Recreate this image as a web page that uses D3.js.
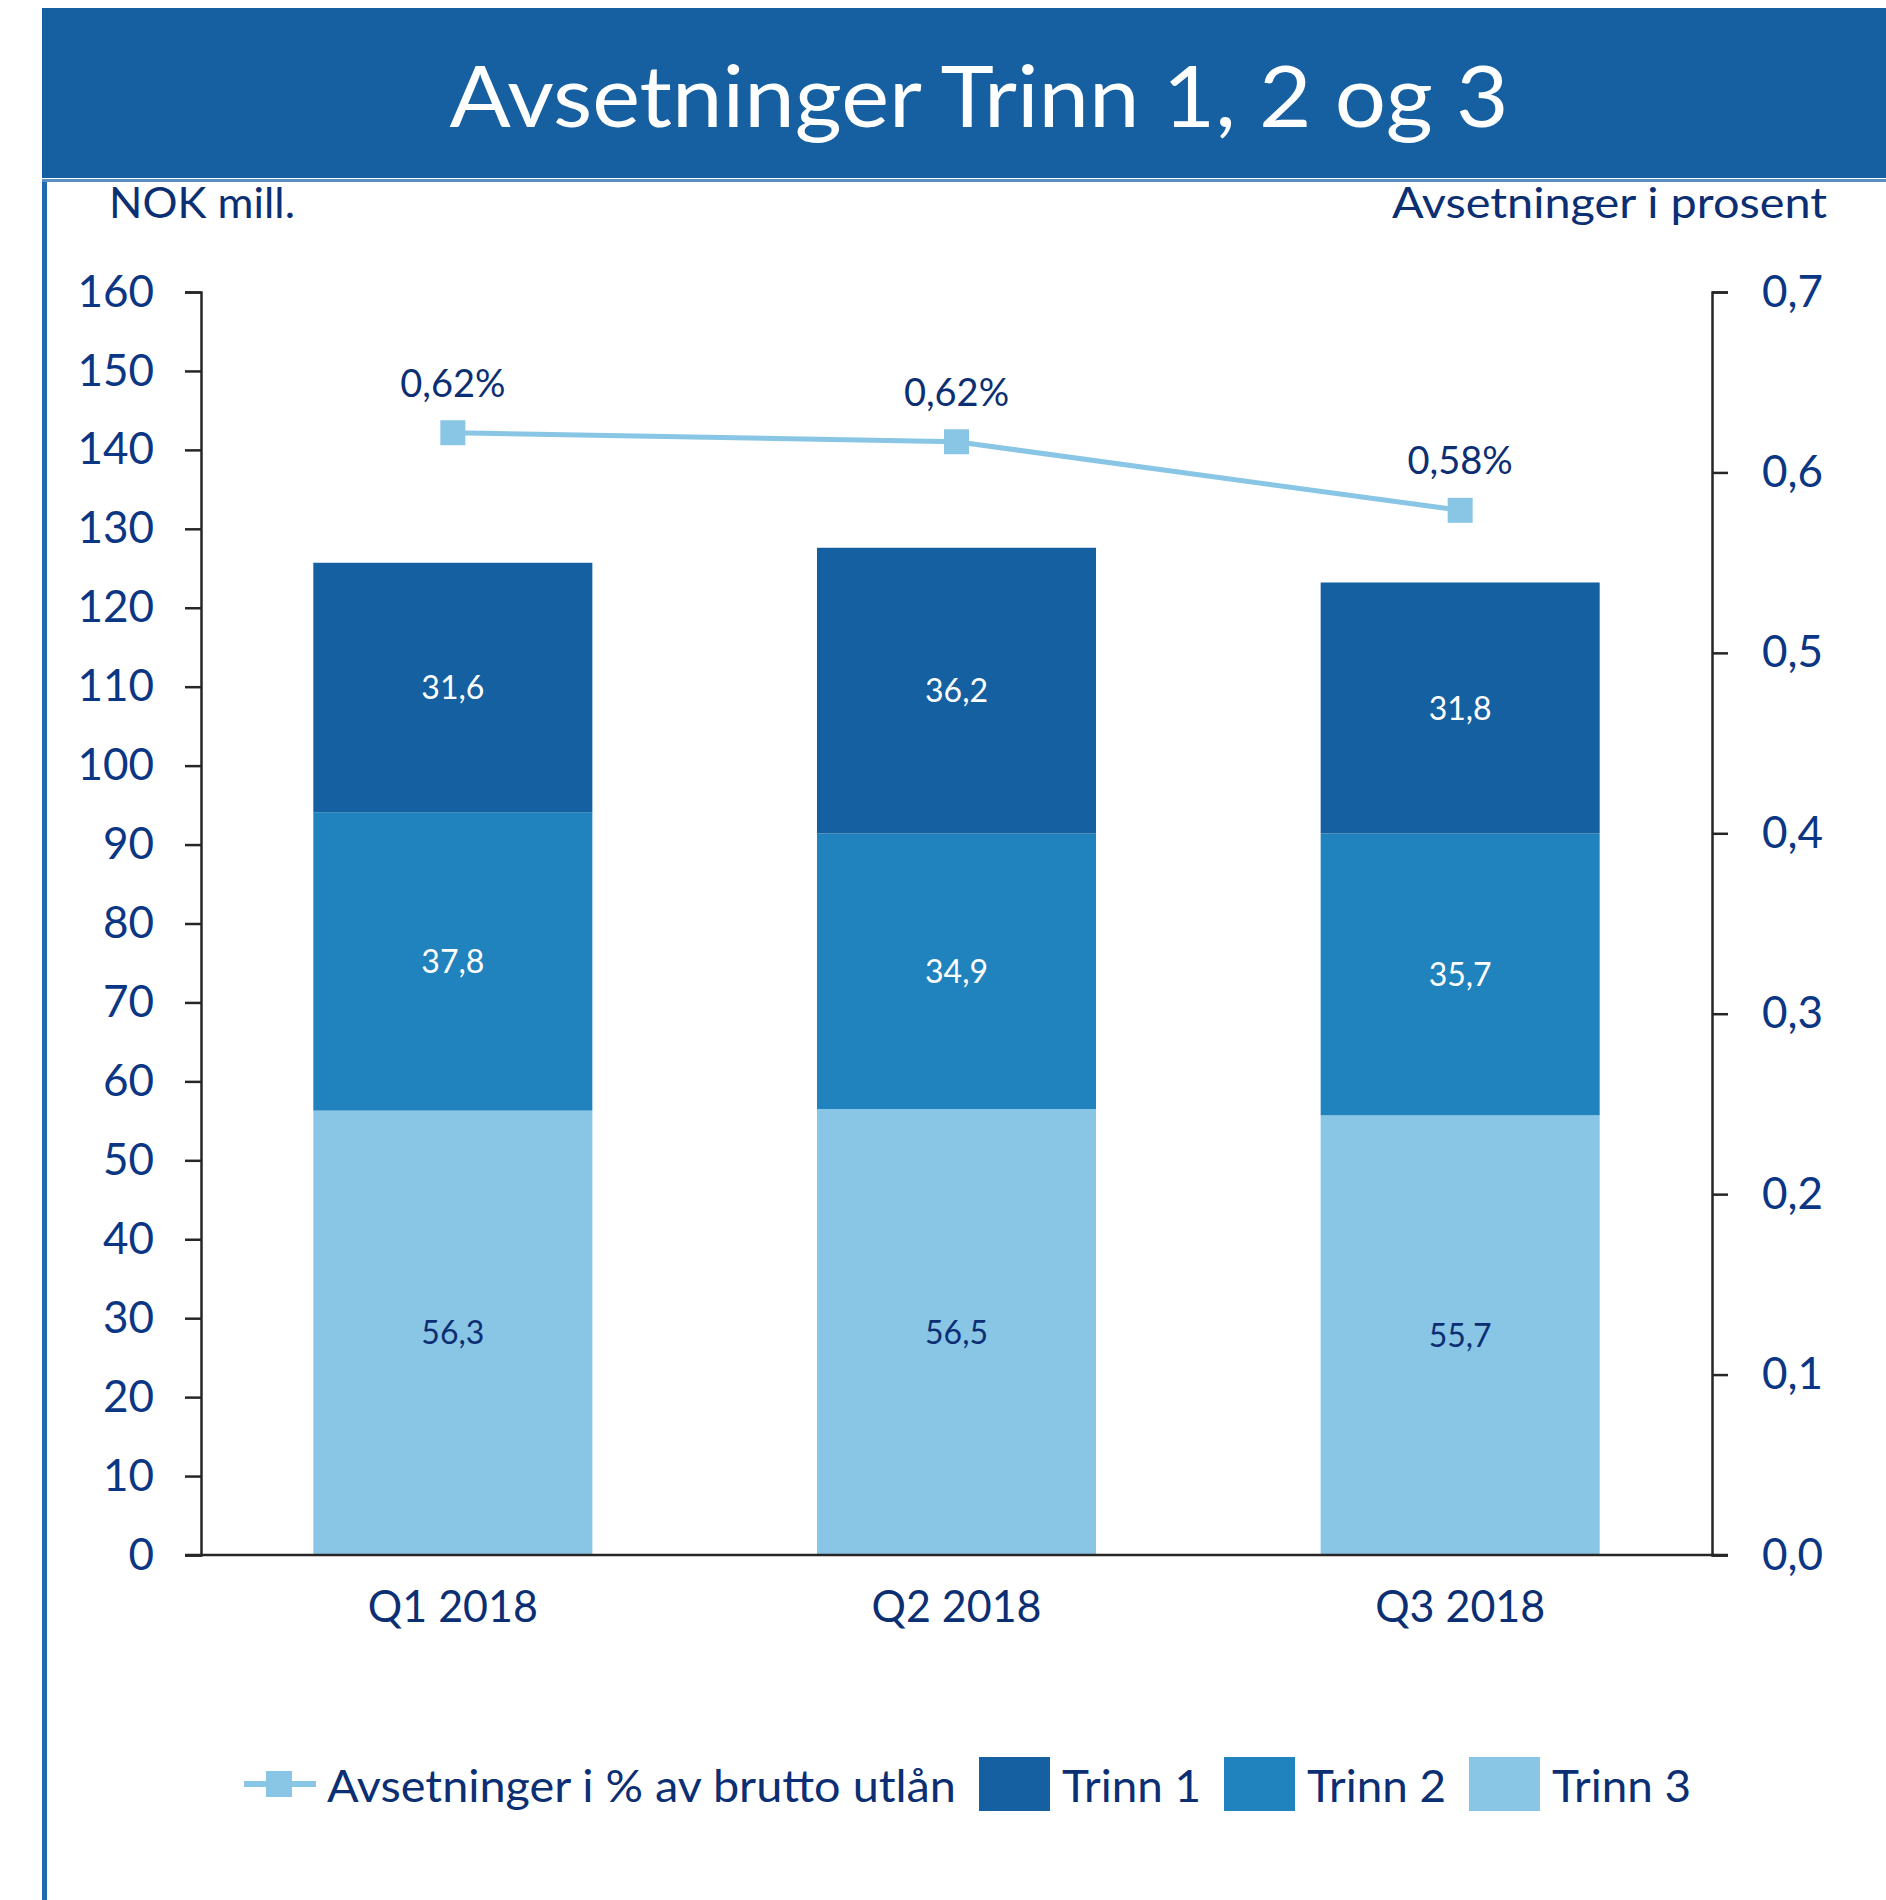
<!DOCTYPE html>
<html>
<head>
<meta charset="utf-8">
<script src="https://cdn.jsdelivr.net/npm/d3@7"></script>
<style>
  body { margin: 0; background: #fff; }
  svg text { font-family: Lato, "Open Sans", sans-serif; }
</style>
</head>
<body>
<div id="chart"></div>
<script>
// Avsetninger Trinn 1, 2 og 3 - stacked bars + % line on right axis

var quarters = ["Q1 2018", "Q2 2018", "Q3 2018"],
    trinn1 = [31.6, 36.2, 31.8],
    trinn2 = [37.8, 34.9, 35.7],
    trinn3 = [56.3, 56.5, 55.7],
    pctLine = [0.622, 0.617, 0.579],
    leftTicks = [0, 10, 20, 30, 40, 50, 60, 70, 80, 90, 100, 110, 120, 130, 140, 150, 160],
    rightTicks = [0, 0.1, 0.2, 0.3, 0.4, 0.5, 0.6, 0.7],
    seriesNames = ["Trinn 1", "Trinn 2", "Trinn 3"],
    lineName = "Avsetninger i % av brutto utlån";

var W = 1886, H = 1900,
    navy = "#0c2f73", tickBlue = "#0b3683",
    colors = {"Trinn 1": "#1560a0", "Trinn 2": "#2183bd", "Trinn 3": "#89c6e5"},
    plot = {left: 201, right: 1712, top: 292, bottom: 1555};

var no = d3.formatLocale({decimal: ",", thousands: " ", grouping: [3], currency: ["", " kr"]});
var f1 = no.format(".1f"), f2 = no.format(".2f");

var svg = d3.select("#chart").append("svg")
    .attr("width", W).attr("height", H);

// header band + frame
svg.append("rect").attr("x", 42).attr("y", 8).attr("width", W - 42).attr("height", 170)
    .attr("fill", "#1660a1");
svg.append("rect").attr("x", 42).attr("y", 179).attr("width", W - 42).attr("height", 3)
    .attr("fill", "#5b8fc4");
svg.append("rect").attr("x", 42).attr("y", 182).attr("width", 5).attr("height", H - 182)
    .attr("fill", "#1f6ab0");

svg.append("text").attr("x", 979).attr("y", 127)
    .attr("text-anchor", "middle").attr("fill", "#fff")
    .attr("font-size", 86).attr("textLength", 1059).attr("lengthAdjust", "spacingAndGlyphs")
    .text("Avsetninger Trinn 1, 2 og 3");

svg.append("text").attr("x", 109).attr("y", 218).attr("fill", navy)
    .attr("font-size", 43).attr("textLength", 186).attr("lengthAdjust", "spacingAndGlyphs")
    .text("NOK mill.");
svg.append("text").attr("x", 1827).attr("y", 218).attr("fill", navy)
    .attr("text-anchor", "end")
    .attr("font-size", 43).attr("textLength", 435).attr("lengthAdjust", "spacingAndGlyphs")
    .text("Avsetninger i prosent");

// scales
var x = d3.scaleBand().domain(quarters).range([plot.left, plot.right])
    .paddingInner(0.446).paddingOuter(0.223);
var y = d3.scaleLinear().domain([0, 160]).range([plot.bottom, plot.top]);
var y2 = d3.scaleLinear().domain([0, 0.7]).range([plot.bottom, plot.top]);

// stacked data
var rows = quarters.map(function(q, i) {
  return {q: q, "Trinn 3": trinn3[i], "Trinn 2": trinn2[i], "Trinn 1": trinn1[i]};
});
var stack = d3.stack().keys(["Trinn 3", "Trinn 2", "Trinn 1"])(rows);

var layers = svg.append("g").selectAll("g").data(stack).join("g")
    .attr("fill", function(d) { return colors[d.key]; });
layers.selectAll("rect").data(function(d) { return d; }).join("rect")
    .attr("x", function(d) { return x(d.data.q); })
    .attr("width", x.bandwidth())
    .attr("y", function(d) { return y(d[1]); })
    .attr("height", function(d) { return y(d[0]) - y(d[1]); });

layers.selectAll("text").data(function(d) { return d.map(function(v) { v.key = d.key; return v; }); })
    .join("text")
    .attr("x", function(d) { return x(d.data.q) + x.bandwidth() / 2; })
    .attr("y", function(d) { return (y(d[0]) + y(d[1])) / 2; })
    .attr("dy", "0.36em")
    .attr("text-anchor", "middle")
    .attr("font-size", 32)
    .attr("fill", function(d) { return d.key === "Trinn 3" ? navy : "#fff"; })
    .text(function(d) { return f1(d[1] - d[0]); });

// axes
var axL = svg.append("g").attr("transform", "translate(" + plot.left + ",0)")
    .call(d3.axisLeft(y).tickValues(leftTicks).tickSize(16).tickPadding(31).tickFormat(d3.format("d")));
var axR = svg.append("g").attr("transform", "translate(" + plot.right + ",0)")
    .call(d3.axisRight(y2).tickValues(rightTicks).tickSize(16).tickPadding(34).tickFormat(f1));
[axL, axR].forEach(function(a) {
  a.selectAll("path, line").attr("stroke", "#262626").attr("stroke-width", 2.5);
  a.selectAll("text").attr("font-size", 44).attr("fill", tickBlue).attr("font-family", null);
});
svg.append("line")
    .attr("x1", plot.left - 16).attr("x2", plot.right + 16)
    .attr("y1", y(0)).attr("y2", y(0))
    .attr("stroke", "#262626").attr("stroke-width", 2.5);

svg.append("g").selectAll("text").data(quarters).join("text")
    .attr("x", function(d) { return x(d) + x.bandwidth() / 2; })
    .attr("y", 1622)
    .attr("text-anchor", "middle").attr("fill", navy).attr("font-size", 44)
    .attr("textLength", 170).attr("lengthAdjust", "spacingAndGlyphs")
    .text(function(d) { return d; });

// percentage line
var lineColor = "#89c6e5", ms = 25;
var linePts = quarters.map(function(q, i) { return {q: q, v: pctLine[i]}; });
svg.append("path").datum(linePts)
    .attr("fill", "none").attr("stroke", lineColor).attr("stroke-width", 5)
    .attr("d", d3.line()
      .x(function(d) { return x(d.q) + x.bandwidth() / 2; })
      .y(function(d) { return y2(d.v); }));
svg.append("g").selectAll("rect").data(linePts).join("rect")
    .attr("x", function(d) { return x(d.q) + x.bandwidth() / 2 - ms / 2; })
    .attr("y", function(d) { return y2(d.v) - ms / 2; })
    .attr("width", ms).attr("height", ms).attr("fill", lineColor);
svg.append("g").selectAll("text").data(linePts).join("text")
    .attr("x", function(d) { return x(d.q) + x.bandwidth() / 2; })
    .attr("y", function(d) { return y2(d.v) - 36; })
    .attr("text-anchor", "middle").attr("fill", navy).attr("font-size", 38)
    .text(function(d) { return f2(d.v) + "%"; });

// legend
var lg = svg.append("g");
lg.append("line").attr("x1", 244).attr("x2", 316).attr("y1", 1784).attr("y2", 1784)
    .attr("stroke", lineColor).attr("stroke-width", 6);
lg.append("rect").attr("x", 266).attr("y", 1771).attr("width", 26).attr("height", 26)
    .attr("fill", lineColor);
lg.append("text").attr("x", 327).attr("y", 1802).attr("fill", navy).attr("font-size", 44)
    .attr("textLength", 629).attr("lengthAdjust", "spacingAndGlyphs").text(lineName);

var swX = [979, 1224, 1469];
lg.selectAll(".sw").data(seriesNames).join("rect").attr("class", "sw")
    .attr("x", function(d, i) { return swX[i]; }).attr("y", 1757)
    .attr("width", 71).attr("height", 54)
    .attr("fill", function(d) { return colors[d]; });
lg.selectAll(".lt").data(seriesNames).join("text").attr("class", "lt")
    .attr("x", function(d, i) { return swX[i] + 83; }).attr("y", 1802)
    .attr("fill", navy).attr("font-size", 44)
    .attr("textLength", 139).attr("lengthAdjust", "spacingAndGlyphs")
    .text(function(d) { return d; });
</script>
</body>
</html>
